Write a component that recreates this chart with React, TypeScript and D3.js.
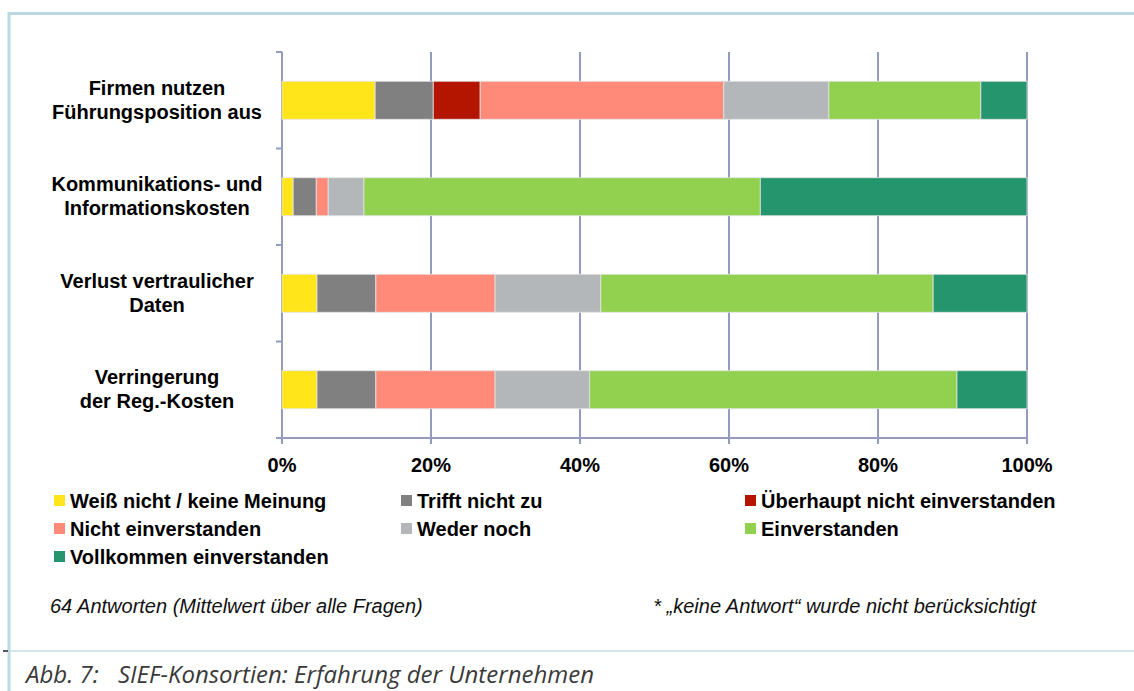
import React from 'react';
import * as d3 from 'd3';

// categories (top to bottom)
const categories = [
  'Firmen nutzen\nFührungsposition aus',
  'Kommunikations- und\nInformationskosten',
  'Verlust vertraulicher\nDaten',
  'Verringerung\nder Reg.-Kosten',
];

// answer shares in %, one value per category
const weissNicht = [12.5, 1.5, 4.7, 4.7];
const trifftNicht = [7.8, 3.1, 7.9, 7.9];
const ueberhauptNicht = [6.3, 0, 0, 0];
const nichtEinverstanden = [32.7, 1.6, 16.0, 16.0];
const wederNoch = [14.1, 4.8, 14.2, 12.7];
const einverstanden = [20.4, 53.2, 44.6, 49.3];
const vollkommen = [6.2, 35.8, 12.6, 9.4];

const seriesNames = [
  'Weiß nicht / keine Meinung',
  'Trifft nicht zu',
  'Überhaupt nicht einverstanden',
  'Nicht einverstanden',
  'Weder noch',
  'Einverstanden',
  'Vollkommen einverstanden',
];
const seriesValues = [weissNicht, trifftNicht, ueberhauptNicht, nichtEinverstanden, wederNoch, einverstanden, vollkommen];
const seriesColors = ['#ffe51a', '#808080', '#b31500', '#ff8a7a', '#b4b7b9', '#92d150', '#25956e'];

const xTicks = [0, 20, 40, 60, 80, 100];

const W = 1134;
const H = 691;
const margin = { top: 52, left: 282, right: 107, bottom: 253 };
const font = '"Liberation Sans", Arial, sans-serif';
const gridColor = '#959bbf';

export default function App() {
  const x = d3.scaleLinear().domain([0, 100]).range([margin.left, W - margin.right]);
  const y = d3
    .scaleBand<string>()
    .domain(categories)
    .range([margin.top, H - margin.bottom])
    .paddingInner(0.606)
    .paddingOuter(0.303);

  const rows = categories.map((c, i) => {
    const r: Record<string, any> = { cat: c };
    seriesNames.forEach((s, j) => (r[s] = seriesValues[j][i]));
    return r;
  });
  const stacked = d3.stack<any>().keys(seriesNames)(rows);

  const yTop = margin.top;
  const yBottom = H - margin.bottom;
  const step = y.step();
  const bounds = d3.range(categories.length + 1).map((i) => yTop + i * step);

  const legendX = [54, 401, 745];
  const legendY = [508, 536, 564];

  return (
    <svg width={W} height={H} style={{ position: 'absolute', left: 0, top: 0, background: '#fff' }}>
      {/* frame */}
      <line x1={9} y1={13.5} x2={W} y2={13.5} stroke="#bcd8e2" strokeWidth={3} />
      <line x1={9} y1={12} x2={9} y2={H} stroke="#bcd8e2" strokeWidth={3} />
      <line x1={10} y1={651} x2={W} y2={651} stroke="#d3e5ed" strokeWidth={2} />
      <line x1={3} y1={651} x2={8} y2={651} stroke="#222" strokeWidth={1.5} />

      {/* vertical gridlines */}
      {xTicks.map((t) => (
        <line key={t} x1={x(t)} x2={x(t)} y1={yTop} y2={yBottom + 6} stroke={gridColor} strokeWidth={2} />
      ))}
      <line x1={x(0) - 6} x2={x(100)} y1={yBottom} y2={yBottom} stroke={gridColor} strokeWidth={2} />
      {bounds.map((b, i) => (
        <line key={i} x1={x(0) - 6} x2={x(0)} y1={b} y2={b} stroke={gridColor} strokeWidth={2} />
      ))}

      {/* bars */}
      {stacked.map((layer, j) => (
        <g key={layer.key} fill={seriesColors[j]}>
          {layer.map((d, i) =>
            d[1] - d[0] > 0 ? (
              <rect
                key={i}
                x={x(d[0])}
                y={y(categories[i])}
                width={x(d[1]) - x(d[0])}
                height={y.bandwidth()}
                stroke="#e4e4e4"
                strokeWidth={0.8}
              />
            ) : null
          )}
        </g>
      ))}

      {/* x tick labels */}
      {xTicks.map((t) => (
        <text key={t} x={x(t)} y={472} textAnchor="middle" fontFamily={font} fontWeight="bold" fontSize={20}>
          {t}%
        </text>
      ))}

      {/* category labels */}
      {categories.map((c) => {
        const lines = c.split('\n');
        const cy = (y(c) as number) + y.bandwidth() / 2;
        return (
          <text key={c} x={157} textAnchor="middle" fontFamily={font} fontWeight="bold" fontSize={20}>
            {lines.map((l, k) => (
              <tspan key={k} x={157} y={cy + 6.5 + (k - (lines.length - 1) / 2) * 24}>
                {l}
              </tspan>
            ))}
          </text>
        );
      })}

      {/* legend */}
      {seriesNames.map((s, j) => {
        const lx = legendX[j % 3];
        const ly = legendY[Math.floor(j / 3)];
        return (
          <g key={s}>
            <rect x={lx} y={ly - 13} width={11} height={11} fill={seriesColors[j]} />
            <text x={lx + 16} y={ly} fontFamily={font} fontWeight="bold" fontSize={20}>
              {s}
            </text>
          </g>
        );
      })}

      {/* notes */}
      <text x={50} y={613} fontFamily={font} fontStyle="italic" fontSize={20} fill="#111">
        64 Antworten (Mittelwert über alle Fragen)
      </text>
      <text x={1036} y={613} textAnchor="end" fontFamily={font} fontStyle="italic" fontSize={20} fill="#111">
        * „keine Antwort“ wurde nicht berücksichtigt
      </text>

      {/* caption */}
      <text x={26} y={683} fontFamily='"Open Sans", sans-serif' fontStyle="italic" fontSize={24} fill="#3a3a3a">
        Abb. 7:
      </text>
      <text x={118} y={683} fontFamily='"Open Sans", sans-serif' fontStyle="italic" fontSize={24} fill="#3a3a3a">
        SIEF-Konsortien: Erfahrung der Unternehmen
      </text>
    </svg>
  );
}
